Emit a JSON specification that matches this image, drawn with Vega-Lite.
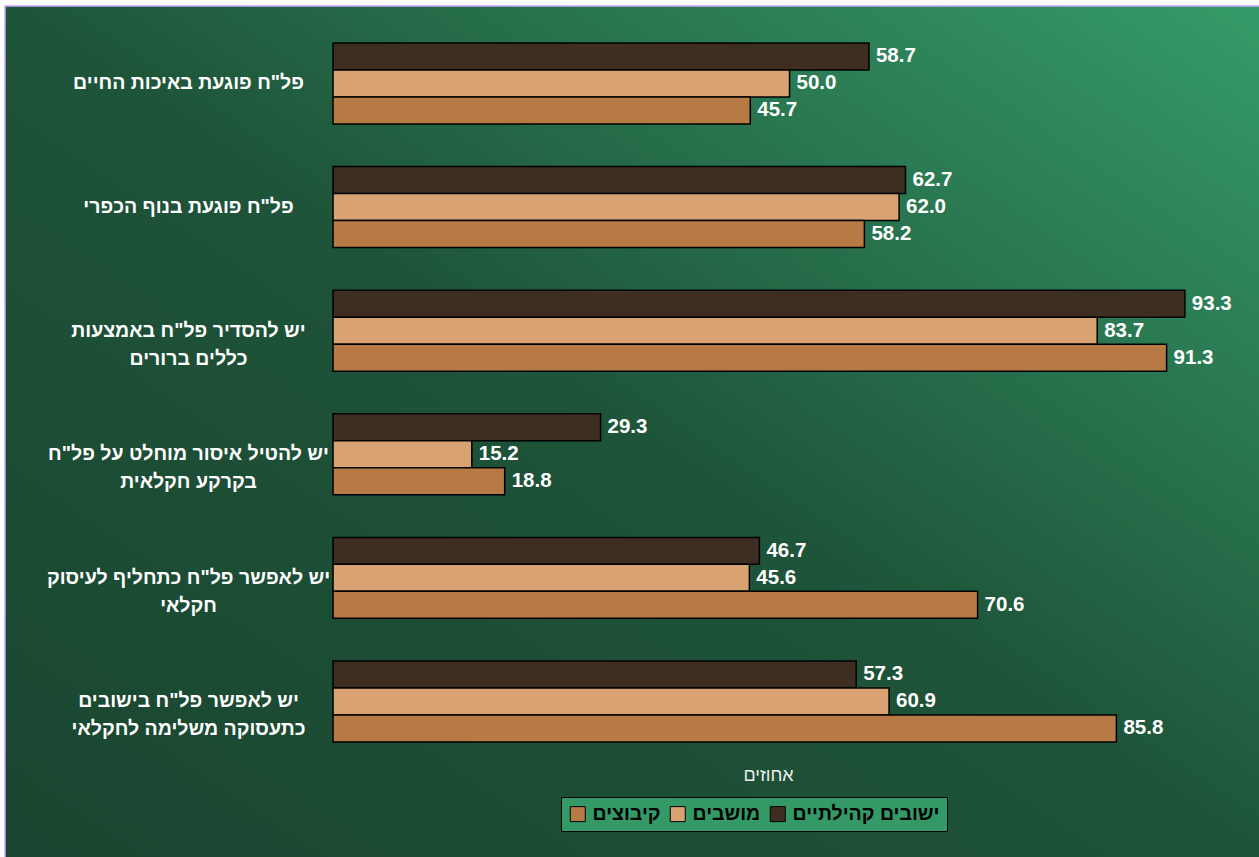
{
  "$schema": "https://vega.github.io/schema/vega-lite/v6.json",
  "width": 1256,
  "height": 853,
  "autosize": {"type": "none"},
  "padding": {"left": 5, "top": 6, "right": 0, "bottom": 0},
  "background": "white",
  "config": {
    "font": "Liberation Sans",
    "view": {
      "fill": {
        "gradient": "linear",
        "x1": 1, "y1": 0, "x2": 0, "y2": 1,
        "stops": [
          {"offset": 0, "color": "#359b69"},
          {"offset": 0.5, "color": "#1e5439"},
          {"offset": 1, "color": "#1a4530"}
        ]
      },
      "stroke": "#c9a6ff",
      "strokeWidth": 1.5
    }
  },
  "data": {
    "values": [
      {"q": "פל\"ח פוגעת באיכות החיים", "series": "ישובים קהילתיים", "value": 58.7},
      {"q": "פל\"ח פוגעת באיכות החיים", "series": "מושבים", "value": 50.0},
      {"q": "פל\"ח פוגעת באיכות החיים", "series": "קיבוצים", "value": 45.7},
      {"q": "פל\"ח פוגעת בנוף הכפרי", "series": "ישובים קהילתיים", "value": 62.7},
      {"q": "פל\"ח פוגעת בנוף הכפרי", "series": "מושבים", "value": 62.0},
      {"q": "פל\"ח פוגעת בנוף הכפרי", "series": "קיבוצים", "value": 58.2},
      {"q": "יש להסדיר פל\"ח באמצעות|כללים ברורים", "series": "ישובים קהילתיים", "value": 93.3},
      {"q": "יש להסדיר פל\"ח באמצעות|כללים ברורים", "series": "מושבים", "value": 83.7},
      {"q": "יש להסדיר פל\"ח באמצעות|כללים ברורים", "series": "קיבוצים", "value": 91.3},
      {"q": "יש להטיל איסור מוחלט על פל\"ח|בקרקע חקלאית", "series": "ישובים קהילתיים", "value": 29.3},
      {"q": "יש להטיל איסור מוחלט על פל\"ח|בקרקע חקלאית", "series": "מושבים", "value": 15.2},
      {"q": "יש להטיל איסור מוחלט על פל\"ח|בקרקע חקלאית", "series": "קיבוצים", "value": 18.8},
      {"q": "יש לאפשר פל\"ח כתחליף לעיסוק|חקלאי", "series": "ישובים קהילתיים", "value": 46.7},
      {"q": "יש לאפשר פל\"ח כתחליף לעיסוק|חקלאי", "series": "מושבים", "value": 45.6},
      {"q": "יש לאפשר פל\"ח כתחליף לעיסוק|חקלאי", "series": "קיבוצים", "value": 70.6},
      {"q": "יש לאפשר פל\"ח בישובים|כתעסוקה משלימה לחקלאי", "series": "ישובים קהילתיים", "value": 57.3},
      {"q": "יש לאפשר פל\"ח בישובים|כתעסוקה משלימה לחקלאי", "series": "מושבים", "value": 60.9},
      {"q": "יש לאפשר פל\"ח בישובים|כתעסוקה משלימה לחקלאי", "series": "קיבוצים", "value": 85.8}
    ]
  },
  "encoding": {
    "y": {
      "field": "q",
      "type": "nominal",
      "sort": null,
      "scale": {"paddingInner": 0.345, "paddingOuter": 0.623, "align": 0.24},
      "axis": {
        "orient": "left",
        "offset": -183,
        "title": null,
        "domain": false,
        "ticks": false,
        "labelPadding": 0,
        "labelAlign": "center",
        "labelBaseline": "middle",
        "labelExpr": "split(datum.label, '|')",
        "labelFontSize": 19.5,
        "labelFontWeight": "bold",
        "labelColor": "white",
        "labelLineHeight": 28,
        "labelLimit": 500
      }
    },
    "yOffset": {
      "field": "series",
      "type": "nominal",
      "sort": ["ישובים קהילתיים", "מושבים", "קיבוצים"],
      "scale": {"paddingInner": 0, "paddingOuter": 0}
    },
    "x": {
      "field": "value",
      "type": "quantitative",
      "scale": {"domain": [-35.93, 101.64], "nice": false, "zero": false},
      "axis": {
        "orient": "bottom",
        "domain": false,
        "ticks": false,
        "labels": false,
        "grid": false,
        "title": "אחוזים",
        "titleColor": "#eeeeee",
        "titleFontWeight": "normal",
        "titleFontSize": 18,
        "titleX": 763,
        "titleY": -84,
        "titleAlign": "center",
        "titleBaseline": "middle"
      }
    }
  },
  "layer": [
    {
      "mark": {"type": "bar", "stroke": "black", "strokeWidth": 1.5},
      "encoding": {
        "color": {
          "field": "series",
          "type": "nominal",
          "scale": {
            "domain": ["קיבוצים", "מושבים", "ישובים קהילתיים"],
            "range": ["#b87a44", "#d9a273", "#3e2e22"]
          },
          "legend": {
            "orient": "none",
            "legendX": 556,
            "legendY": 791,
            "direction": "horizontal",
            "title": null,
            "fillColor": "#339966",
            "strokeColor": "black",
            "padding": 7,
            "symbolType": "square",
            "symbolSize": 225,
            "symbolStrokeColor": "black",
            "symbolStrokeWidth": 1,
            "symbolOpacity": 1,
            "labelFontSize": 19.5,
            "labelFontWeight": "bold",
            "labelColor": "black",
            "labelOffset": 5,
            "columnPadding": 7
          }
        }
      }
    },
    {
      "mark": {
        "type": "text",
        "align": "left",
        "baseline": "middle",
        "dx": 7,
        "fontSize": 20.5,
        "fontWeight": "bold",
        "fill": "white"
      },
      "encoding": {
        "text": {"field": "value", "type": "quantitative", "format": ".1f"}
      }
    }
  ]
}
